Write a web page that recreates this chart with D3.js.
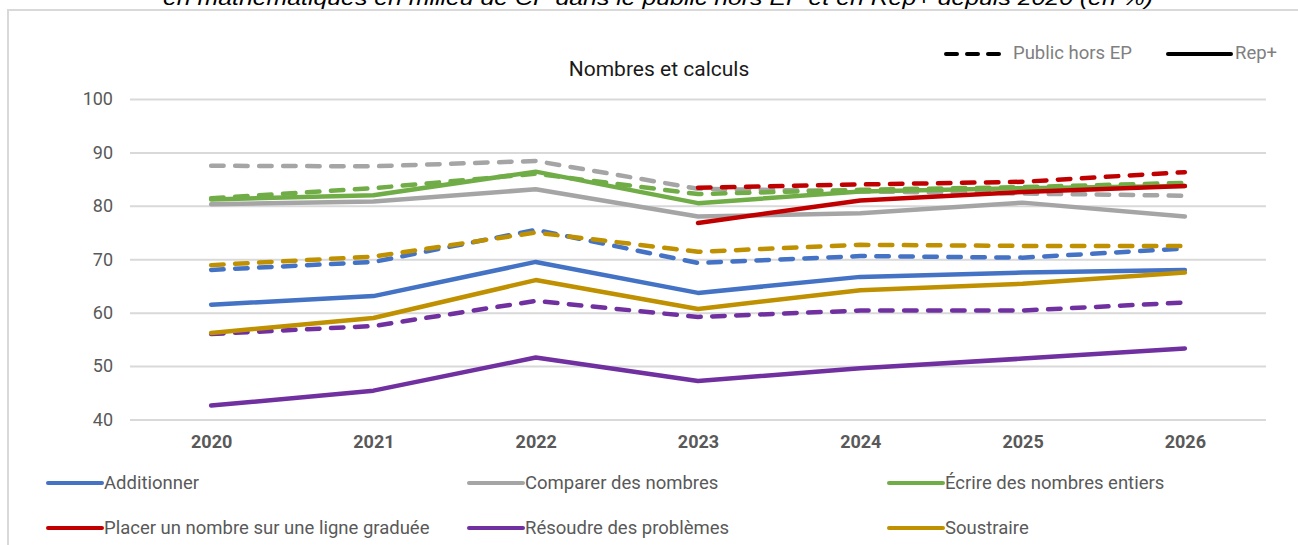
<!DOCTYPE html>
<html>
<head>
<meta charset="utf-8">
<script src="https://cdn.jsdelivr.net/npm/d3@7"></script>
<style>
  body { margin: 0; background: #fff; }
  svg { display: block; font-family: Roboto, "Noto Sans", sans-serif; }
</style>
</head>
<body>
<svg id="chart" width="1298" height="545"></svg>
<script>
// values (%)
var years = ["2020", "2021", "2022", "2023", "2024", "2025", "2026"];
var skills = ["Additionner", "Comparer des nombres", "Écrire des nombres entiers",
    "Placer un nombre sur une ligne graduée", "Résoudre des problèmes", "Soustraire"];
var skillColors = ["#4472C4", "#A5A5A5", "#70AD47", "#C00000", "#7030A0", "#BF9000"];
var yTicks = [40, 50, 60, 70, 80, 90, 100];

var additionnerRep = [61.5, 63.1, 69.5, 63.7, 66.7, 67.5, 68.0];
var additionnerPub = [68.0, 69.5, 75.5, 69.3, 70.6, 70.3, 72.0];
var comparerRep = [80.3, 80.8, 83.1, 78.0, 78.6, 80.6, 78.0];
var comparerPub = [87.5, 87.4, 88.4, 83.2, 82.7, 82.3, 81.9];
var ecrireRep = [81.2, 82.0, 86.4, 80.5, 82.7, 83.3, 83.7];
var ecrirePub = [81.4, 83.3, 86.0, 82.2, 83.0, 83.5, 84.3];
var placerRep = [null, null, null, 76.8, 81.0, 82.6, 83.7];
var placerPub = [null, null, null, 83.4, 84.0, 84.5, 86.3];
var resoudreRep = [42.6, 45.4, 51.6, 47.2, 49.6, 51.4, 53.3];
var resoudrePub = [56.0, 57.5, 62.2, 59.2, 60.4, 60.4, 61.9];
var soustraireRep = [56.2, 59.0, 66.1, 60.7, 64.2, 65.4, 67.5];
var soustrairePub = [68.9, 70.5, 75.0, 71.4, 72.7, 72.5, 72.5];

var repSeries = [additionnerRep, comparerRep, ecrireRep, placerRep, resoudreRep, soustraireRep];
var pubSeries = [additionnerPub, comparerPub, ecrirePub, placerPub, resoudrePub, soustrairePub];

var svg = d3.select("#chart");

// clipped heading at the very top
svg.append("text")
    .attr("x", 658)
    .attr("y", 5)
    .attr("text-anchor", "middle")
    .attr("font-family", "'Liberation Sans', sans-serif")
    .attr("font-style", "italic")
    .attr("font-size", 21)
    .attr("textLength", 990)
    .attr("lengthAdjust", "spacingAndGlyphs")
    .attr("fill", "#000")
    .text("en mathématiques en milieu de CP dans le public hors EP et en Rep+ depuis 2020 (en %)");

// frame
svg.append("rect")
    .attr("x", 8)
    .attr("y", 10)
    .attr("width", 1320)
    .attr("height", 560)
    .attr("fill", "none")
    .attr("stroke", "#d9d9d9")
    .attr("stroke-width", 2);

var xScale = d3.scalePoint()
    .domain(years)
    .range([130, 1266])
    .padding(0.5);

var yScale = d3.scaleLinear()
    .domain([40, 100])
    .range([419.5, 99]);

// y axis + gridlines
var yAxis = d3.axisLeft(yScale)
    .tickValues(yTicks)
    .tickSize(-(1266 - 130))
    .tickPadding(17);

var gy = svg.append("g")
    .attr("transform", "translate(130,0)")
    .call(yAxis);
gy.select(".domain").remove();
gy.selectAll(".tick line").attr("stroke", "#d9d9d9").attr("stroke-width", 2);
gy.selectAll(".tick text")
    .attr("fill", "#595959")
    .attr("font-size", 18)
    .attr("font-family", "Roboto, sans-serif");

// x axis
var xAxis = d3.axisBottom(xScale).tickSize(0).tickPadding(15);
var gx = svg.append("g")
    .attr("transform", "translate(0,420)")
    .call(xAxis);
gx.select(".domain").remove();
gx.selectAll(".tick text")
    .attr("fill", "#595959")
    .attr("font-size", 18)
    .attr("font-weight", "bold")
    .attr("font-family", "Roboto, sans-serif");

// chart title
svg.append("text")
    .attr("x", 659)
    .attr("y", 76)
    .attr("text-anchor", "middle")
    .attr("font-size", 21)
    .attr("fill", "#1a1a1a")
    .text("Nombres et calculs");

var line = d3.line()
    .defined(function (d) { return d != null; })
    .x(function (d, i) { return xScale(years[i]); })
    .y(function (d) { return yScale(d); });

// lines: for each skill, public hors EP (dashed) then Rep+ (solid)
skills.forEach(function (s, k) {
    svg.append("path")
        .datum(pubSeries[k])
        .attr("d", line)
        .attr("fill", "none")
        .attr("stroke", skillColors[k])
        .attr("stroke-width", 4.5)
        .attr("stroke-linecap", "round")
        .attr("stroke-linejoin", "round")
        .attr("stroke-dasharray", "12.5,11.5");

    svg.append("path")
        .datum(repSeries[k])
        .attr("d", line)
        .attr("fill", "none")
        .attr("stroke", skillColors[k])
        .attr("stroke-width", 4.5)
        .attr("stroke-linecap", "round")
        .attr("stroke-linejoin", "round");
});

// top legend (line style)
var topLegend = svg.append("g");
topLegend.append("line")
    .attr("x1", 946).attr("x2", 999).attr("y1", 54).attr("y2", 54)
    .attr("stroke", "#000").attr("stroke-width", 4)
    .attr("stroke-linecap", "round")
    .attr("stroke-dasharray", "11,10");
topLegend.append("text")
    .attr("x", 1013).attr("y", 53)
    .attr("dy", "0.35em")
    .attr("font-size", 18.5)
    .attr("fill", "#808080")
    .text("Public hors EP");
topLegend.append("line")
    .attr("x1", 1168).attr("x2", 1231).attr("y1", 54).attr("y2", 54)
    .attr("stroke", "#000").attr("stroke-width", 4)
    .attr("stroke-linecap", "round");
topLegend.append("text")
    .attr("x", 1235).attr("y", 53)
    .attr("dy", "0.35em")
    .attr("font-size", 18.5)
    .attr("fill", "#808080")
    .text("Rep+");

// bottom legend (skills)
var colX = [46, 467, 887];
var rowY = [483, 528];
var legend = svg.append("g");
skills.forEach(function (s, k) {
    var cx = colX[k % 3];
    var cy = rowY[Math.floor(k / 3)];
    legend.append("line")
        .attr("x1", cx + 2).attr("x2", cx + 56)
        .attr("y1", cy).attr("y2", cy)
        .attr("stroke", skillColors[k])
        .attr("stroke-width", 4)
        .attr("stroke-linecap", "round");
    legend.append("text")
        .attr("x", cx + 58).attr("y", cy)
        .attr("dy", "0.35em")
        .attr("font-size", 18.5)
        .attr("fill", "#595959")
        .text(s);
});
</script>
</body>
</html>
